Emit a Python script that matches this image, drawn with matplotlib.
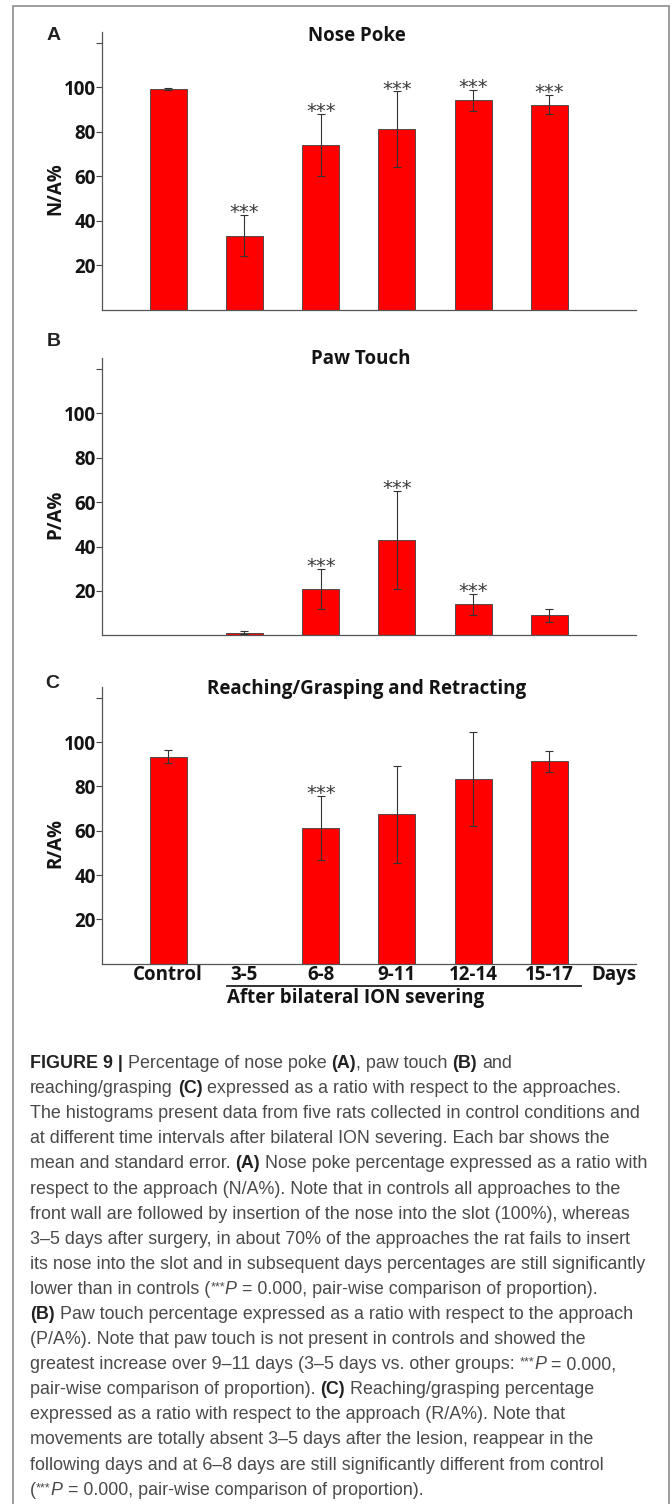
import matplotlib
matplotlib.use('Agg')
import matplotlib.pyplot as plt
from matplotlib import font_manager
from matplotlib.lines import Line2D
from matplotlib.patches import Rectangle

W, H = 672, 1504

# ---------------- data ----------------
categories = ['Control', '3-5', '6-8', '9-11', '12-14', '15-17']
nose_mean = [99.3, 33.2, 74.2, 81.2, 94.2, 92.3]
nose_err = [0.3, 9.2, 14.0, 17.0, 4.7, 4.4]
nose_sig = [False, True, True, True, True, True]
paw_mean = [0.0, 1.2, 21.0, 43.0, 14.0, 9.0]
paw_err = [0.0, 0.8, 9.0, 22.0, 4.7, 3.0]
paw_sig = [False, False, True, True, True, False]
reach_mean = [93.5, 0.0, 61.3, 67.4, 83.4, 91.4]
reach_err = [3.1, 0.0, 14.3, 22.0, 21.1, 4.7]
reach_sig = [False, False, True, False, False, False]
yticks = [20, 40, 60, 80, 100, 120]
yticklabels = ['20', '40', '60', '80', '100', '']
panel_titles = ['Nose Poke', 'Paw Touch', 'Reaching/Grasping and Retracting']
panel_letters = ['A', 'B', 'C']
ylabels = ['N/A%', 'P/A%', 'R/A%']

# ---------------- fonts ----------------
names = {f.name for f in font_manager.fontManager.ttflist}
PLOTF = 'Open Sans' if 'Open Sans' in names else 'DejaVu Sans'
CAPF = 'Liberation Sans' if 'Liberation Sans' in names else 'DejaVu Sans'
plt.rcParams['font.family'] = [PLOTF, 'DejaVu Sans']

fig = plt.figure(figsize=(W / 100, H / 100), dpi=100)
fig.patch.set_facecolor('white')

def fx(x):
    return x / W

def fy(y):
    return 1 - y / H

# border
fig.add_artist(Rectangle((fx(12.5), fy(1520)), fx(669) - fx(12.5), fy(6) - fy(1520),
                         transform=fig.transFigure, fill=False,
                         edgecolor='#8c8c8c', linewidth=1.2))

BAR = '#ff0000'
DARK = '#333333'
TXT = '#141414'
FS = 13.5
AX_L, AX_R = 102.0, 635.5
panels = [
    (nose_mean, nose_err, nose_sig, 32.0, 309.5, (54, 36), 36, 357),
    (paw_mean, paw_err, paw_sig, 358.0, 635.3, (54, 342), 359, 361),
    (reach_mean, reach_err, reach_sig, 686.7, 963.7, (52, 683), 689, 367),
]

for k, (mean, err, sig, top, bot, letpos, tity, titx) in enumerate(panels):
    ax = fig.add_axes([fx(AX_L), fy(bot), fx(AX_R) - fx(AX_L), (bot - top) / H])
    xs = list(range(len(categories)))
    ax.bar(xs, mean, width=0.484, color=BAR, edgecolor='#3a4040', linewidth=0.6, zorder=2)
    ex = [x for x, m in zip(xs, mean) if m > 0]
    em = [m for m in mean if m > 0]
    ee = [e for m, e in zip(mean, err) if m > 0]
    ax.errorbar(ex, em, yerr=ee, fmt='none', ecolor=DARK, elinewidth=0.8,
                capsize=2.6, capthick=0.8, zorder=3)
    for x, m, e, s in zip(xs, mean, err, sig):
        if s:
            ax.annotate('***', (x, m + e), xytext=(0, -2.2), textcoords='offset points',
                        ha='center', va='baseline', fontsize=14, color='#3a3a3a',
                        family='DejaVu Sans')
    ax.set_xlim(-0.869, 6.13)
    ax.set_ylim(0, 125)
    ax.set_yticks(yticks)
    ax.set_yticklabels(yticklabels, fontsize=FS, fontweight='bold', color=TXT)
    ax.tick_params(axis='y', length=4, width=0.8, color='#444444', pad=0.5)
    for sp in ['top', 'right']:
        ax.spines[sp].set_visible(False)
    for sp in ['left', 'bottom']:
        ax.spines[sp].set_color('#555555')
        ax.spines[sp].set_linewidth(0.9)
    ax.set_ylabel(ylabels[k], fontsize=FS, fontweight='bold', color=TXT, va='center')
    ax.yaxis.set_label_coords(-0.0868, 0.435)
    if k == 2:
        ax.set_xticks(xs)
        ax.set_xticklabels(categories, fontsize=FS, fontweight='bold', color=TXT)
        ax.tick_params(axis='x', length=0, pad=1)
    else:
        ax.set_xticks([])
    fig.text(fx(titx), fy(tity), panel_titles[k], ha='center', va='center',
             fontsize=FS, fontweight='bold', color=TXT)
    fig.text(fx(letpos[0]), fy(letpos[1]), panel_letters[k], ha='center', va='center',
             fontsize=14, fontweight='bold', color='#222222', family=CAPF)

# x-axis extras
fig.text(fx(614), fy(965), 'Days', ha='center', va='top', fontsize=FS,
         fontweight='bold', color=TXT)
fig.add_artist(Line2D([fx(227), fx(580.6)], [fy(985.7), fy(985.7)],
                      transform=fig.transFigure, color='#222222', linewidth=1.3))
fig.text(fx(227), fy(988), 'After bilateral ION severing', ha='left', va='top',
         fontsize=FS, fontweight='bold', color=TXT)

# ---------------- caption ----------------
N, B, I, S = 'n', 'b', 'i', 's'
caption = [
    [(B, 'FIGURE 9 |'), (N, ' Percentage of nose poke '), (B, '(A)'), (N, ', paw touch '), (B, '(B)'), (N, ' and')],
    [(N, 'reaching/grasping '), (B, '(C)'), (N, ' expressed as a ratio with respect to the approaches.')],
    [(N, 'The histograms present data from five rats collected in control conditions and')],
    [(N, 'at different time intervals after bilateral ION severing. Each bar shows the')],
    [(N, 'mean and standard error. '), (B, '(A)'), (N, ' Nose poke percentage expressed as a ratio with')],
    [(N, 'respect to the approach (N/A%). Note that in controls all approaches to the')],
    [(N, 'front wall are followed by insertion of the nose into the slot (100%), whereas')],
    [(N, '3\u20135 days after surgery, in about 70% of the approaches the rat fails to insert')],
    [(N, 'its nose into the slot and in subsequent days percentages are still significantly')],
    [(N, 'lower than in controls ('), (S, '***'), (I, 'P'), (N, ' = 0.000, pair-wise comparison of proportion).')],
    [(B, '(B)'), (N, ' Paw touch percentage expressed as a ratio with respect to the approach')],
    [(N, '(P/A%). Note that paw touch is not present in controls and showed the')],
    [(N, 'greatest increase over 9\u201311 days (3\u20135 days vs. other groups: '), (S, '***'), (I, 'P'), (N, ' = 0.000,')],
    [(N, 'pair-wise comparison of proportion). '), (B, '(C)'), (N, ' Reaching/grasping percentage')],
    [(N, 'expressed as a ratio with respect to the approach (R/A%). Note that')],
    [(N, 'movements are totally absent 3\u20135 days after the lesion, reappear in the')],
    [(N, 'following days and at 6\u20138 days are still significantly different from control')],
    [(N, '('), (S, '***'), (I, 'P'), (N, ' = 0.000, pair-wise comparison of proportion).')],
]

renderer = fig.canvas.get_renderer()

def style_kw(st, size):
    kw = dict(fontsize=size, color='#4a4a4a', family=CAPF)
    if st == B:
        kw.update(fontweight='bold', color='#222222')
    elif st == I:
        kw.update(fontstyle='italic')
    elif st == S:
        kw.update(fontsize=size * 0.7)
    return kw

def text_width(s, kw):
    if not s:
        return 0.0
    t = fig.text(0, 0, s, **kw)
    w = t.get_window_extent(renderer).width
    t.remove()
    return w

def seg_width(s, kw):
    core = s.strip(' ')
    lead = len(s) - len(s.lstrip(' '))
    trail = len(s) - len(s.rstrip(' '))
    sp = text_width('x x', kw) - text_width('xx', kw)
    return lead * sp, text_width(core, kw), trail * sp

base = 10.0
ref_w = sum(sum(seg_width(s, style_kw(st, base))) for st, s in caption[2])
size = base * 612.0 / ref_w

x0 = 30.0
y0 = 1068.0
dy = 25.1
for li, line in enumerate(caption):
    x = x0
    yb = y0 + li * dy
    for st, s in line:
        kw = style_kw(st, size)
        lead, core_w, trail = seg_width(s, kw)
        x += lead
        yy = yb - (3.5 if st == S else 0.0)
        fig.text(fx(x), fy(yy), s.strip(' '), ha='left', va='baseline', **kw)
        x += core_w + trail

fig.savefig('out.png', dpi=100, facecolor='white')
